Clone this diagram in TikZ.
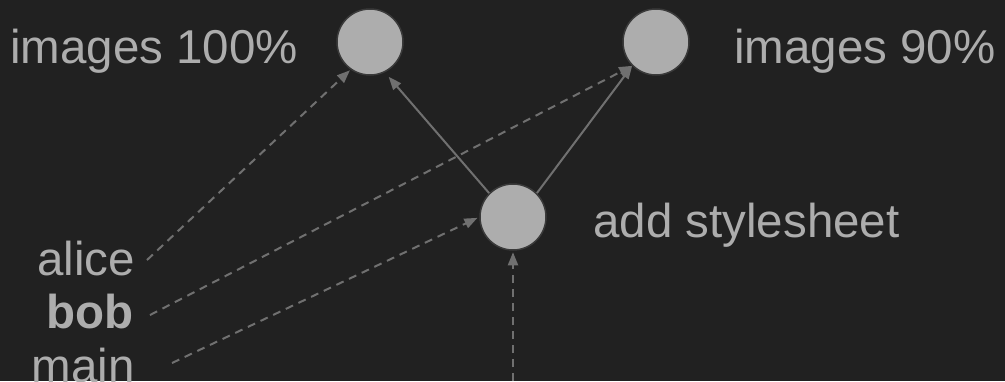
\documentclass[tikz,border=0pt]{standalone}
\usepackage{fontspec}
\setmainfont{Liberation Sans}
\usetikzlibrary{arrows.meta}
\definecolor{bg}{HTML}{212121}
\definecolor{ink}{HTML}{ADADAD}
\definecolor{wire}{HTML}{707070}
\definecolor{rim}{HTML}{3A3A3A}

\begin{document}
\begin{tikzpicture}[x=1pt,y=-1pt,
  stage/.style={circle, minimum size=66pt, inner sep=0pt, fill=ink, draw=rim, line width=1.5pt},
  lbl/.style={text=ink, inner sep=0pt, font=\fontsize{47.5}{57}\selectfont},
  link/.style={draw=wire, line width=2pt, -{Triangle[length=13pt,width=10pt]}},
  trail/.style={link, dash pattern=on 8pt off 6pt}]

  % canvas
  \fill[bg] (0,0) rectangle (1005,381);
  \useasboundingbox (0,0) rectangle (1005,381);

  % stages
  \node[stage] (c1) at (370,42) {};
  \node[stage] (c2) at (656,42) {};
  \node[stage] (c3) at (513,217) {};

  % stage captions
  \node[lbl, anchor=base west] (t100) at (10,63) {images 100\%};
  \node[lbl, anchor=base west] (t90) at (734,63) {images 90\%};
  \node[lbl, anchor=base west] (tadd) at (593,237) {add stylesheet};

  % branch names
  \node[lbl, anchor=base east] (alice) at (135,275) {alice};
  \node[lbl, anchor=base east, font=\fontsize{47.5}{57}\selectfont\bfseries] (bob) at (134,328) {bob};
  \node[lbl, anchor=base east] (main) at (135,382) {main};
  \coordinate (foot) at (513,381);

  % history
  \draw[link, shorten >=6pt] (c3.135) -- (c1.-64);
  \draw[link] (c3.45) -- (c2.225);

  % branch pointers
  \draw[trail, shorten >=1pt] ([xshift=12pt,yshift=-2pt]alice.east) -- (c1.235);
  \draw[trail] ([xshift=16pt,yshift=-4pt]bob.east) -- (c2.225);
  \draw[trail, shorten >=2pt] ([xshift=37pt,yshift=2pt]main.east) -- (c3.west);
  \draw[trail, shorten >=1.5pt] (foot) -- (c3.south);
\end{tikzpicture}
\end{document}
